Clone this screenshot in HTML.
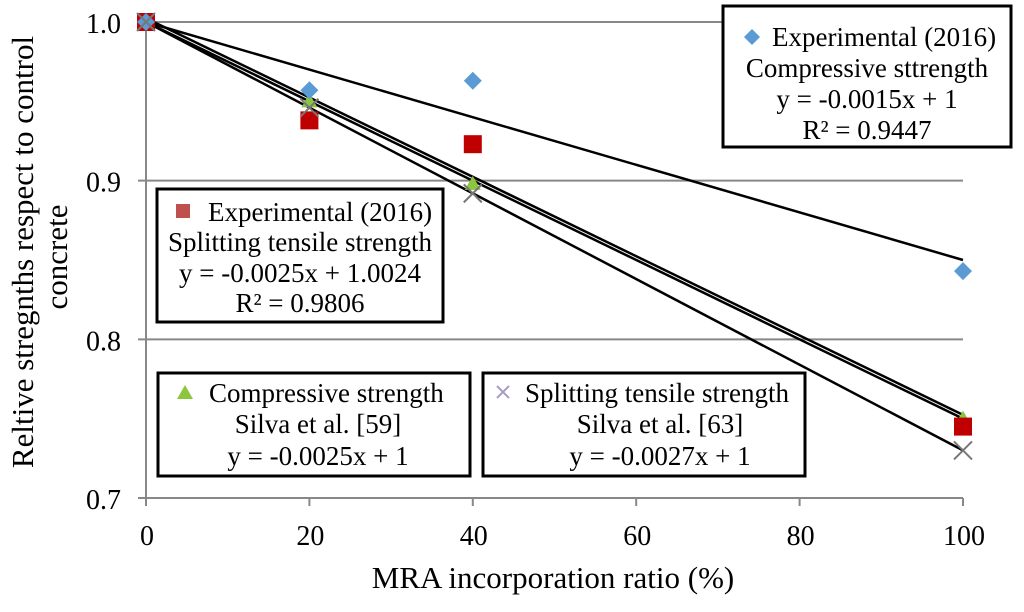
<!DOCTYPE html>
<html><head><meta charset="utf-8"><style>
body{margin:0;background:#fff}
svg text{font-family:"Liberation Serif",serif;fill:#000}
</style></head><body>
<svg id="chart" width="1024" height="607" viewBox="0 0 1024 607" xmlns="http://www.w3.org/2000/svg">
<g id="grid"></g>
<g id="lines"></g>
<g id="marks"></g>
<g id="ticks"></g>
<text x="553" y="588" font-size="31" text-anchor="middle">MRA incorporation ratio (%)</text>
<text transform="translate(33,252) rotate(-90)" font-size="31" text-anchor="middle">Reltive stregnths respect to control</text>
<text transform="translate(67,257) rotate(-90)" font-size="31" text-anchor="middle">concrete</text>

<g>
<rect x="723" y="6" width="288" height="141" fill="#fff" stroke="#000" stroke-width="3"/>
<path d="M752 29 l8 8 l-8 8 l-8 -8z" fill="#5b9bd5"/>
<text x="772" y="46" font-size="27">Experimental (2016)</text>
<text x="867" y="77" font-size="27" text-anchor="middle">Compressive  sttrength</text>
<text x="867" y="108" font-size="27" text-anchor="middle">y = -0.0015x + 1</text>
<text x="867" y="139" font-size="27" text-anchor="middle">R² = 0.9447</text>
</g>
<g>
<rect x="157" y="189" width="286" height="133" fill="#fff" stroke="#000" stroke-width="3"/>
<rect x="176" y="204" width="14" height="14" fill="#c0504d"/>
<text x="208" y="221" font-size="27">Experimental (2016)</text>
<text x="300" y="251" font-size="27" text-anchor="middle">Splitting tensile strength</text>
<text x="300" y="282" font-size="27" text-anchor="middle">y = -0.0025x + 1.0024</text>
<text x="300" y="312" font-size="27" text-anchor="middle">R² = 0.9806</text>
</g>
<g>
<rect x="158" y="373" width="312" height="103" fill="#fff" stroke="#000" stroke-width="3"/>
<path d="M185 385 l8 14 h-16z" fill="#8cc63f"/>
<text x="209" y="402" font-size="27">Compressive strength</text>
<text x="318" y="433" font-size="27" text-anchor="middle">Silva et al. [59]</text>
<text x="318" y="465" font-size="27" text-anchor="middle">y = -0.0025x + 1</text>
</g>
<g>
<rect x="483" y="373" width="322" height="103" fill="#fff" stroke="#000" stroke-width="3"/>
<path d="M497 386 l12 12 M509 386 l-12 12" stroke="#a99bc4" stroke-width="2"/>
<text x="525" y="402" font-size="27">Splitting tensile strength</text>
<text x="660" y="433" font-size="27" text-anchor="middle">Silva et al. [63]</text>
<text x="660" y="465" font-size="27" text-anchor="middle">y = -0.0027x + 1</text>
</g>
</svg>
<script>
const xCats=[0,20,40,100];
const compExp=[1,0.957,0.963,0.843];
const splitExp=[1,0.938,0.923,0.745];
const compSilva=[1,0.95,0.898,0.75];
const splitSilva=[1,0.946,0.892,0.73];
const trendSlopes=[-0.0015,-0.0025,-0.0025,-0.0027];
const trendIntercepts=[1,1.0024,1,1];
const yTicks=[0.7,0.8,0.9,1.0];
const yTickLabels=["0.7","0.8","0.9","1.0"];
const xTicks=[0,20,40,60,80,100];
const NS="http://www.w3.org/2000/svg";
const X=v=>146+(v/100)*817;
const Y=v=>498-(v-0.7)/0.3*476;
function mk(tag,attrs,parent){const e=document.createElementNS(NS,tag);for(const k in attrs)e.setAttribute(k,attrs[k]);document.getElementById(parent).appendChild(e);return e;}
yTicks.forEach((t,i)=>{
 const g=mk('line',{x1:X(0)-8,x2:X(100),y1:Y(t),y2:Y(t),stroke:'#888','stroke-width':2},'grid');
 
 
 const l=mk('text',{x:X(0)-25,y:Y(t)+11,'font-size':28,'text-anchor':'end'},'ticks');
 l.textContent=yTickLabels[i];
 
 
});
const ax=mk('line',{x1:X(0),x2:X(0),y1:Y(1),y2:Y(0.7)+8,stroke:'#888','stroke-width':2},'grid');


xTicks.forEach(t=>{
 const tk=mk('line',{x1:X(t),x2:X(t),y1:Y(0.7),y2:Y(0.7)+8,stroke:'#888','stroke-width':2},'grid');
 
 
 const l=mk('text',{x:X(t)+1,y:Y(0.7)+47,'font-size':28,'text-anchor':'middle'},'ticks');
 l.textContent=String(t);
 
 
});
trendSlopes.forEach((s,i)=>{
 const b=trendIntercepts[i];
 const ln=mk('line',{x1:X(0),y1:Y(b),x2:X(100),y2:Y(b+s*100),stroke:'#000','stroke-width':2.5},'lines');
 
 
});
xCats.forEach((c,i)=>{
 const x=X(c);
 let y=Y(compSilva[i]);
 const t=mk('path',{d:`M${x} ${y-8} l8 14 h-16z`,fill:'#8cc63f'},'marks');
 
 
 y=Y(splitExp[i]);
 const r=mk('rect',{x:x-9,y:y-9,width:18,height:18,fill:'#c00000'},'marks');
 
 
 y=Y(compExp[i]);
 const d=mk('path',{d:`M${x} ${y-9} l9 9 l-9 9 l-9 -9z`,fill:'#5b9bd5'},'marks');
 
 
 y=Y(splitSilva[i]);
 const cx=mk('path',{d:`M${x-9} ${y-9} l18 18 M${x+9} ${y-9} l-18 18`,stroke:'#777','stroke-width':2},'marks');
 
 
});
</script>
</body></html>
